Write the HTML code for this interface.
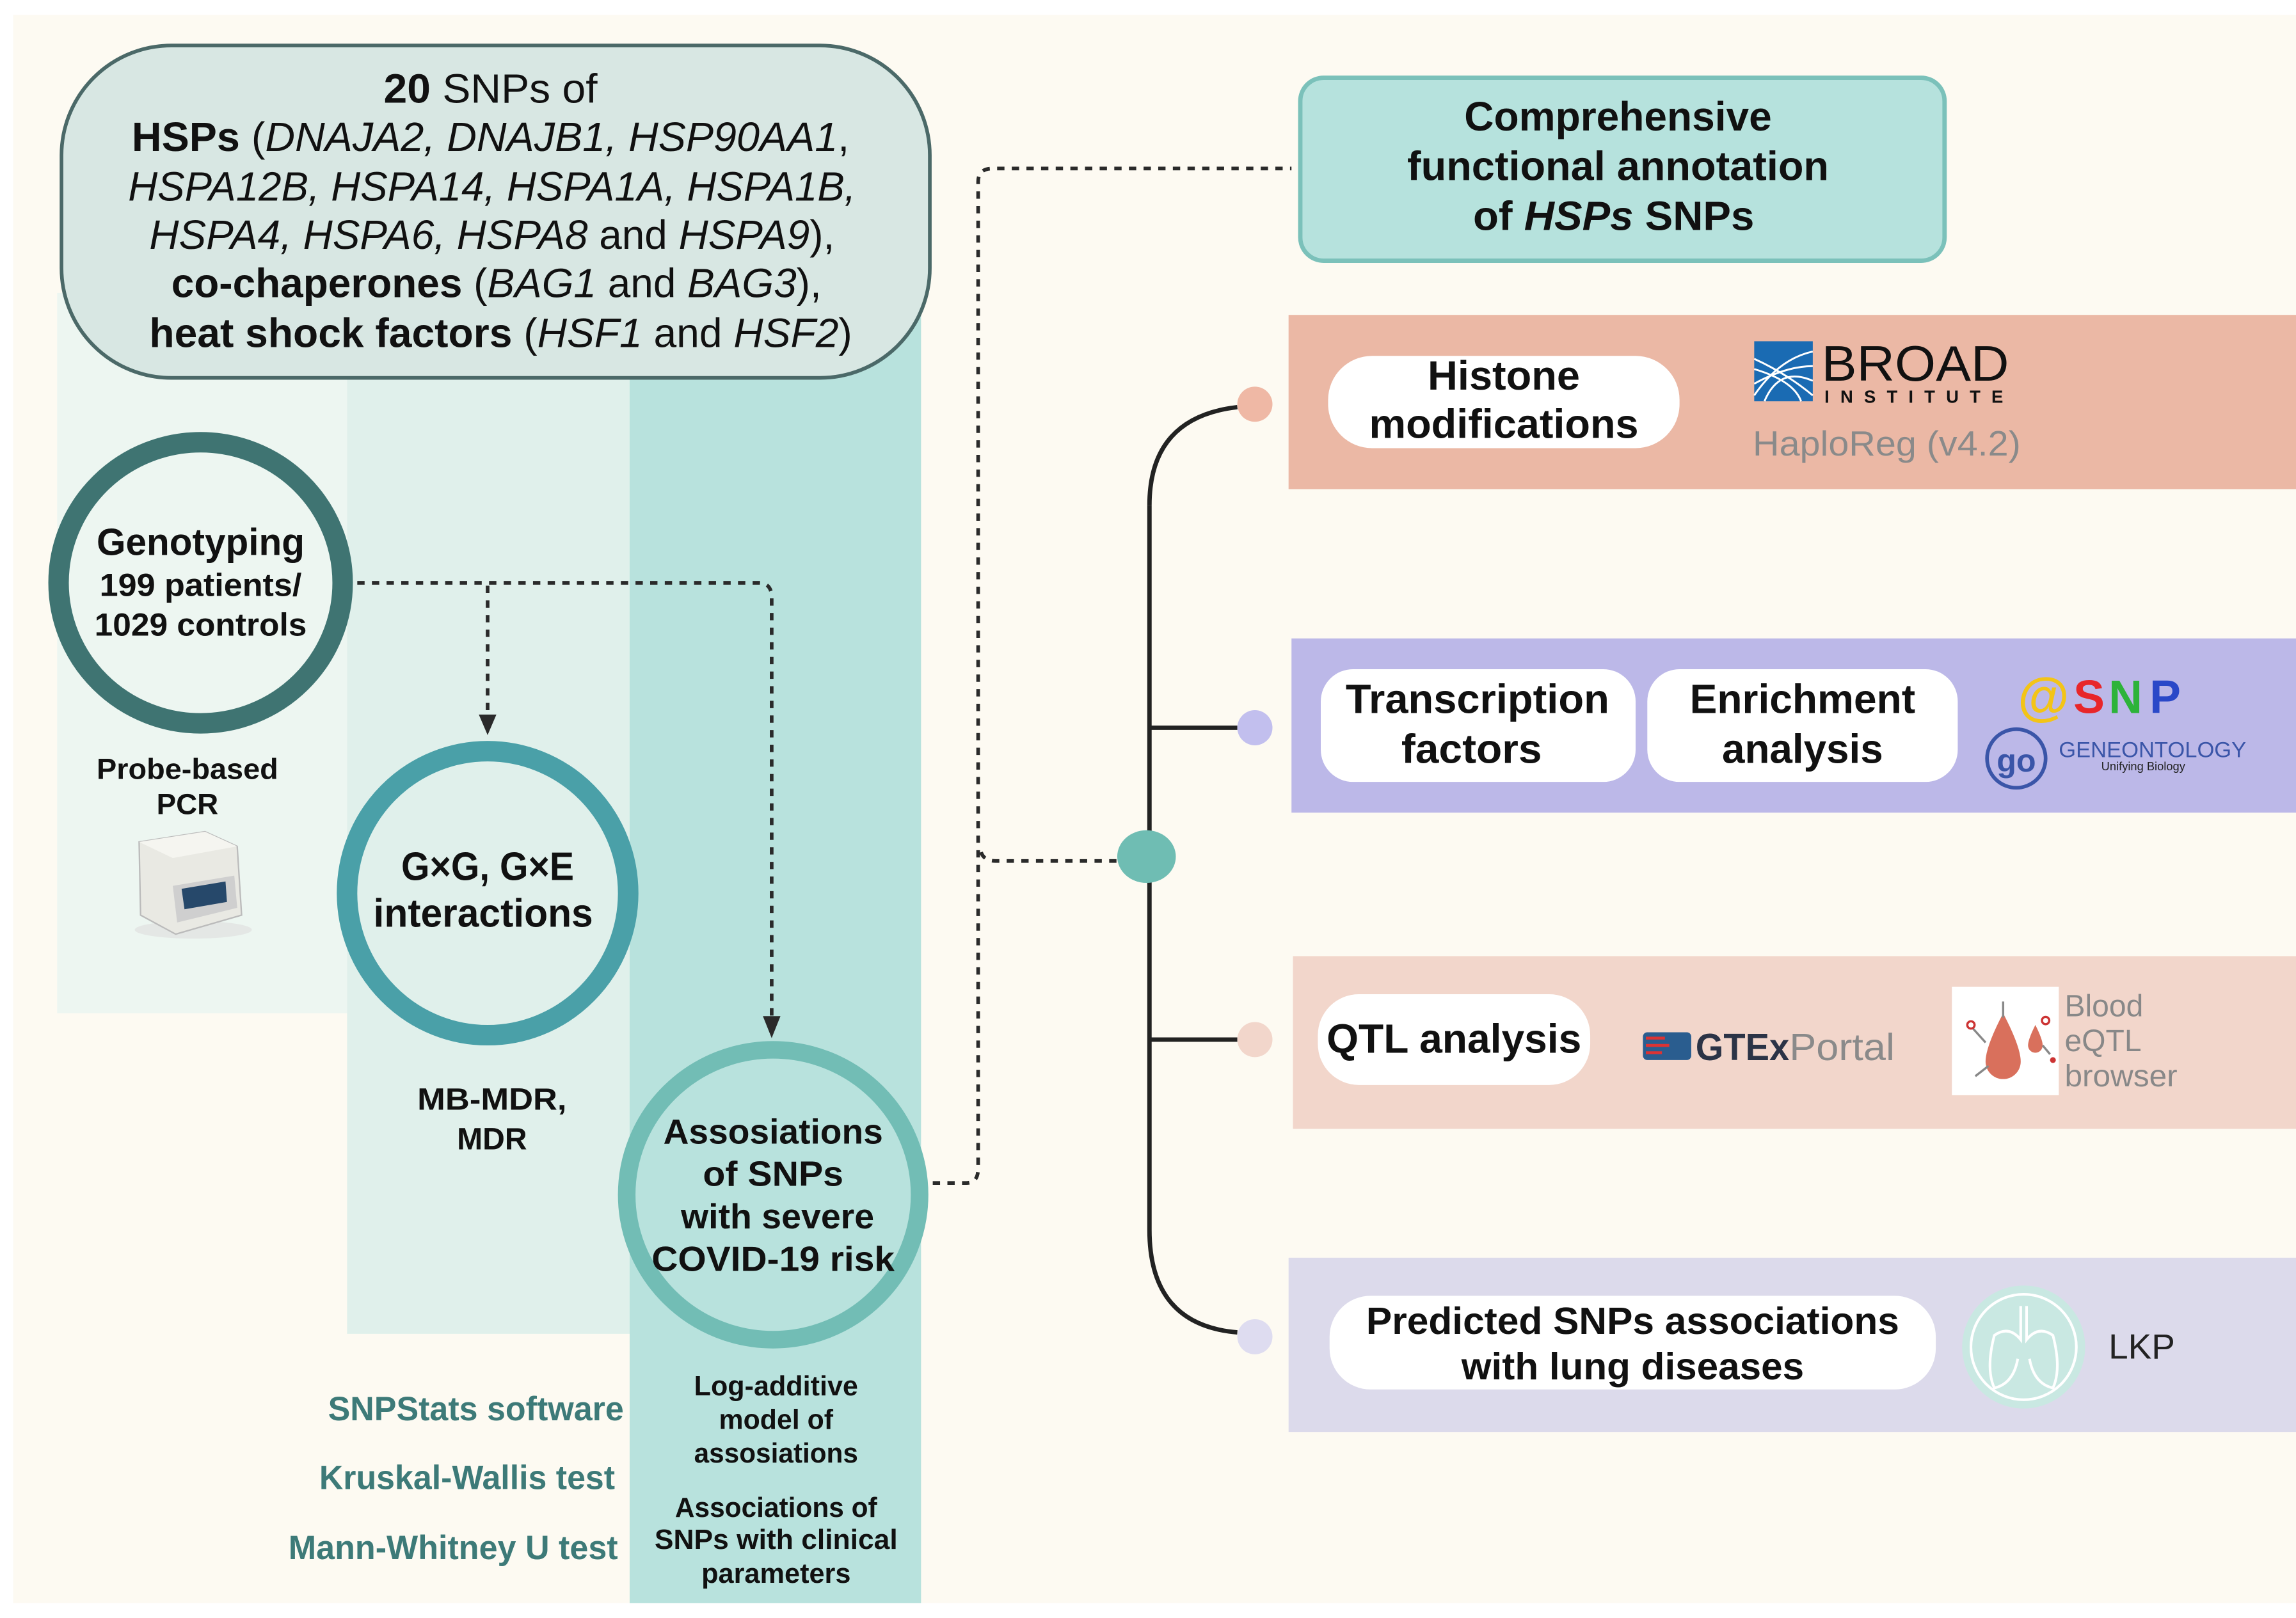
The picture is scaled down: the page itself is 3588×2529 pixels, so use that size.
<!DOCTYPE html>
<html><head><meta charset="utf-8"><style>html,body{margin:0;padding:0;background:#fff}svg{display:block}text{font-family:"Liberation Sans",sans-serif}</style></head>
<body>
<svg width="3588" height="2529" viewBox="0 0 1568 1105" xmlns="http://www.w3.org/2000/svg">
<rect x="0" y="0" width="1568" height="1105" fill="#ffffff"/>
<rect x="9" y="10" width="1559" height="1085" fill="#fdfaf2"/>
<rect x="39" y="200" width="198" height="492" fill="#edf6f1"/>
<rect x="237" y="200" width="194" height="711" fill="#e0f0eb"/>
<rect x="430" y="200" width="199" height="895" fill="#b8e2dd"/>
<rect x="42" y="31" width="593" height="227" rx="75" fill="#d8e7e3" stroke="#4b6968" stroke-width="2.5"/>
<g font-size="28" text-anchor="middle" fill="#111">
<text x="335" y="70" textLength="146" lengthAdjust="spacingAndGlyphs"><tspan font-weight="bold">20</tspan> SNPs of</text>
<text x="335" y="103" textLength="490" lengthAdjust="spacingAndGlyphs"><tspan font-weight="bold">HSPs</tspan> (<tspan font-style="italic">DNAJA2, DNAJB1, HSP90AA1</tspan>,</text>
<text x="336" y="137" textLength="497" lengthAdjust="spacingAndGlyphs" font-style="italic">HSPA12B, HSPA14, HSPA1A, HSPA1B,</text>
<text x="336" y="170" textLength="468" lengthAdjust="spacingAndGlyphs"><tspan font-style="italic">HSPA4, HSPA6, HSPA8</tspan> and <tspan font-style="italic">HSPA9</tspan>),</text>
<text x="339" y="203" textLength="444" lengthAdjust="spacingAndGlyphs"><tspan font-weight="bold">co-chaperones</tspan> (<tspan font-style="italic">BAG1</tspan> and <tspan font-style="italic">BAG3</tspan>),</text>
<text x="342" y="237" textLength="480" lengthAdjust="spacingAndGlyphs"><tspan font-weight="bold">heat shock factors</tspan> (<tspan font-style="italic">HSF1</tspan> and <tspan font-style="italic">HSF2</tspan>)</text>
</g>
<g fill="none" stroke="#2a2a2a" stroke-width="2.5" stroke-dasharray="5 5">
<path d="M244 398 H518 Q527 398 527 408 V694"/>
<path d="M333 400 V488"/>
<path d="M637 808 H660 Q668 808 668 798 V124 Q668 115 678 115 H882"/>
<path d="M670 582 Q672 588 680 588 H763"/>
</g>
<path d="M327 488 L339 488 L333 502 Z" fill="#2a2a2a"/>
<path d="M521 694 L533 694 L527 709 Z" fill="#2a2a2a"/>
<ellipse cx="137" cy="398" rx="97" ry="96" fill="#edf6f1" stroke="#3f7472" stroke-width="14"/>
<g text-anchor="middle" font-weight="bold" fill="#111">
<text x="137" y="379" font-size="26" textLength="142" lengthAdjust="spacingAndGlyphs">Genotyping</text>
<text x="137" y="407" font-size="22" textLength="138" lengthAdjust="spacingAndGlyphs">199 patients/</text>
<text x="137" y="434" font-size="22" textLength="145" lengthAdjust="spacingAndGlyphs">1029 controls</text>
<text x="128" y="532" font-size="20" textLength="124" lengthAdjust="spacingAndGlyphs">Probe-based</text>
<text x="128" y="556" font-size="20">PCR</text>
</g>
<g>
<ellipse cx="132" cy="635" rx="40" ry="6" fill="#ddd" opacity="0.6"/>
<path d="M95 575 L140 568 L162 578 L165 625 L120 638 L96 625 Z" fill="#e9e9e3" stroke="#bbb" stroke-width="1"/>
<path d="M118 605 L160 598 L162 620 L121 630 Z" fill="#cfcfcf"/>
<path d="M124 607 L154 602 L155 616 L126 621 Z" fill="#26486a"/>
<path d="M95 575 L140 568 L162 578 L118 586 Z" fill="#f5f5f0"/>
</g>
<ellipse cx="333" cy="610" rx="96" ry="97" fill="#e0f0eb" stroke="#4aa0a8" stroke-width="14"/>
<g text-anchor="middle" font-weight="bold" fill="#111">
<text x="333" y="601" font-size="27" textLength="118" lengthAdjust="spacingAndGlyphs">G×G, G×E</text>
<text x="330" y="633" font-size="27" textLength="150" lengthAdjust="spacingAndGlyphs">interactions</text>
<text x="336" y="758" font-size="21" textLength="102" lengthAdjust="spacingAndGlyphs">MB-MDR,</text>
<text x="336" y="785" font-size="21">MDR</text>
</g>
<ellipse cx="528" cy="816" rx="100" ry="99" fill="#b8e2dd" stroke="#72bdb5" stroke-width="12"/>
<g text-anchor="middle" font-weight="bold" fill="#111">
<text x="528" y="781" font-size="24" textLength="150" lengthAdjust="spacingAndGlyphs">Assosiations</text>
<text x="528" y="810" font-size="24" textLength="96" lengthAdjust="spacingAndGlyphs">of SNPs</text>
<text x="531" y="839" font-size="24" textLength="132" lengthAdjust="spacingAndGlyphs">with severe</text>
<text x="528" y="868" font-size="24" textLength="166" lengthAdjust="spacingAndGlyphs">COVID-19 risk</text>
<g font-size="19">
<text x="530" y="953" textLength="112" lengthAdjust="spacingAndGlyphs">Log-additive</text>
<text x="530" y="976" textLength="78" lengthAdjust="spacingAndGlyphs">model of</text>
<text x="530" y="999" textLength="112" lengthAdjust="spacingAndGlyphs">assosiations</text>
<text x="530" y="1036" textLength="138" lengthAdjust="spacingAndGlyphs">Associations of</text>
<text x="530" y="1058" textLength="166" lengthAdjust="spacingAndGlyphs">SNPs with  clinical</text>
<text x="530" y="1081" textLength="102" lengthAdjust="spacingAndGlyphs">parameters</text>
</g>
</g>
<g text-anchor="end" font-weight="bold" fill="#3d7a78" font-size="23">
<text x="426" y="970" textLength="202" lengthAdjust="spacingAndGlyphs">SNPStats software</text>
<text x="420" y="1017" textLength="202" lengthAdjust="spacingAndGlyphs">Kruskal-Wallis test</text>
<text x="422" y="1065" textLength="225" lengthAdjust="spacingAndGlyphs">Mann-Whitney U test</text>
</g>
<rect x="888" y="53" width="440" height="125" rx="16" fill="#b6e2dd" stroke="#7bc1ba" stroke-width="3"/>
<g text-anchor="middle" font-weight="bold" fill="#111" font-size="28">
<text x="1105" y="89" textLength="210" lengthAdjust="spacingAndGlyphs">Comprehensive</text>
<text x="1105" y="123" textLength="288" lengthAdjust="spacingAndGlyphs">functional annotation</text>
<text x="1102" y="157" textLength="192" lengthAdjust="spacingAndGlyphs">of <tspan font-style="italic">HSPs</tspan> SNPs</text>
</g>
<rect x="880" y="215" width="688" height="119" fill="#ebb8a5"/>
<rect x="882" y="436" width="686" height="119" fill="#bcb8e8"/>
<rect x="883" y="653" width="685" height="118" fill="#f2d6cb"/>
<rect x="880" y="859" width="688" height="119" fill="#dcdaeb"/>
<g fill="none" stroke="#222" stroke-width="3">
<path d="M785 345 Q785 285 845 278"/>
<path d="M785 345 V840 Q785 905 845 910"/>
<path d="M785 497 H845"/>
<path d="M785 710 H845"/>
</g>
<ellipse cx="783" cy="585" rx="20" ry="18" fill="#6fbdb3"/>
<ellipse cx="857" cy="276" rx="12" ry="12" fill="#efb8a5"/>
<ellipse cx="857" cy="497" rx="12" ry="12" fill="#c2bfee"/>
<ellipse cx="857" cy="710" rx="12" ry="12" fill="#f2d6cb"/>
<ellipse cx="857" cy="913" rx="12" ry="12" fill="#dedcf0"/>
<rect x="907" y="243" width="240" height="63" rx="30" fill="#fff"/>
<g text-anchor="middle" font-weight="bold" fill="#111" font-size="28">
<text x="1027" y="266" textLength="104" lengthAdjust="spacingAndGlyphs">Histone</text>
<text x="1027" y="299" textLength="184" lengthAdjust="spacingAndGlyphs">modifications</text>
</g>
<rect x="1198" y="233" width="40" height="41" fill="#1a6bb3"/>
<g stroke="#fff" stroke-width="1.3" fill="none">
<path d="M1198 270 Q1215 245 1238 240"/><path d="M1198 262 Q1220 250 1238 250"/><path d="M1198 245 Q1220 255 1238 270"/><path d="M1205 274 Q1215 250 1238 260"/><path d="M1198 252 Q1225 260 1230 274"/>
</g>
<text x="1244" y="260" font-family="Liberation Serif,serif" font-size="34" fill="#111" textLength="128" lengthAdjust="spacingAndGlyphs">BROAD</text>
<text x="1246" y="275" font-family="Liberation Serif,serif" font-size="12" font-weight="bold" fill="#111" textLength="122" lengthAdjust="spacing">INSTITUTE</text>
<text x="1197" y="311" font-size="24" fill="#8a8a8a" textLength="183" lengthAdjust="spacingAndGlyphs">HaploReg (v4.2)</text>
<rect x="902" y="457" width="215" height="77" rx="22" fill="#fff"/>
<rect x="1125" y="457" width="212" height="77" rx="22" fill="#fff"/>
<g text-anchor="middle" font-weight="bold" fill="#111" font-size="28">
<text x="1009" y="487" textLength="180" lengthAdjust="spacingAndGlyphs">Transcription</text>
<text x="1005" y="521" textLength="96" lengthAdjust="spacingAndGlyphs">factors</text>
<text x="1231" y="487" textLength="154" lengthAdjust="spacingAndGlyphs">Enrichment</text>
<text x="1231" y="521" textLength="110" lengthAdjust="spacingAndGlyphs">analysis</text>
</g>
<text x="1378" y="488" font-size="36" font-weight="bold" fill="#f3c417">@</text>
<text x="1416" y="487" font-size="32" font-weight="bold" fill="#e8262a">S</text>
<text x="1440" y="487" font-size="32" font-weight="bold" fill="#2db33a">N</text>
<text x="1468" y="487" font-size="32" font-weight="bold" fill="#2a48c8">P</text>
<circle cx="1377" cy="518" r="20" fill="none" stroke="#3a55a8" stroke-width="2.5"/>
<text x="1377" y="527" font-size="22" font-weight="bold" fill="#3a55a8" text-anchor="middle">go</text>
<text x="1406" y="517" font-size="15" fill="#3a55a8" textLength="128" lengthAdjust="spacingAndGlyphs">GENEONTOLOGY</text>
<text x="1435" y="526" font-size="8" fill="#222">Unifying Biology</text>
<rect x="900" y="679" width="186" height="62" rx="28" fill="#fff"/>
<text x="993" y="719" text-anchor="middle" font-weight="bold" fill="#111" font-size="28" textLength="174" lengthAdjust="spacingAndGlyphs">QTL analysis</text>
<rect x="1122" y="705" width="33" height="19" rx="3" fill="#2a5d8f"/>
<path d="M1124 709 H1137 M1124 714 H1140 M1124 719 H1135" stroke="#d33" stroke-width="2"/>
<text x="1158" y="724" font-size="26" font-weight="bold" fill="#2b3346" textLength="64" lengthAdjust="spacingAndGlyphs">GTEx</text>
<text x="1222" y="724" font-size="26" fill="#8a8a8a" textLength="72" lengthAdjust="spacingAndGlyphs">Portal</text>
<rect x="1333" y="674" width="73" height="74" fill="#fff"/>
<path d="M1368 692 Q1356 715 1356 725 A12 12 0 0 0 1380 725 Q1380 715 1368 692 Z" fill="#d9705c"/>
<path d="M1390 700 Q1385 710 1385 714 A5 5 0 0 0 1395 714 Q1395 710 1390 700 Z" fill="#d9705c"/>
<g stroke="#888" stroke-width="1.5"><path d="M1368 684 V695"/><path d="M1347 702 L1356 712"/><path d="M1349 735 L1358 728"/><path d="M1400 720 L1395 714"/></g>
<circle cx="1346" cy="700" r="2.5" fill="none" stroke="#c33" stroke-width="1.5"/><circle cx="1397" cy="697" r="2.5" fill="none" stroke="#c33" stroke-width="1.5"/><circle cx="1402" cy="724" r="2" fill="#c33"/>
<g font-size="21" fill="#888">
<text x="1410" y="694">Blood</text>
<text x="1410" y="718">eQTL</text>
<text x="1410" y="742" textLength="77" lengthAdjust="spacingAndGlyphs">browser</text>
</g>
<rect x="908" y="885" width="414" height="64" rx="28" fill="#fff"/>
<g text-anchor="middle" font-weight="bold" fill="#111" font-size="26">
<text x="1115" y="911" textLength="364" lengthAdjust="spacingAndGlyphs">Predicted SNPs associations</text>
<text x="1115" y="942" textLength="234" lengthAdjust="spacingAndGlyphs">with lung diseases</text>
</g>
<ellipse cx="1382" cy="920" rx="42" ry="42" fill="#c9e8e2"/>
<g fill="none" stroke="#fff" stroke-width="1.8">
<circle cx="1382" cy="920" r="36"/>
<path d="M1380 892 V915 Q1372 905 1362 912 Q1356 935 1362 948 Q1375 945 1378 928"/>
<path d="M1384 892 V915 Q1392 905 1402 912 Q1408 935 1402 948 Q1389 945 1386 928"/>
</g>
<text x="1440" y="928" font-size="24" fill="#222">LKP</text>
</svg>
</body></html>
